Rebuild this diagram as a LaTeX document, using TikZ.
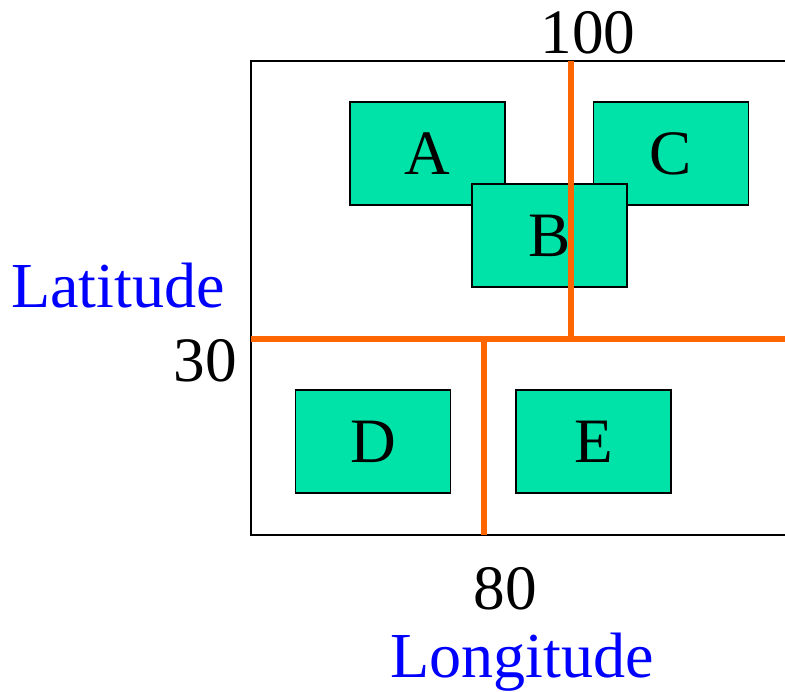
\documentclass[tikz,border=0pt]{standalone}
\usepackage{fontspec}
\setmainfont{Liberation Serif}
\usepackage{tikz}
\usetikzlibrary{positioning}
\definecolor{rectfill}{RGB}{0,227,168}
\definecolor{splitorange}{RGB}{255,102,0}
\tikzset{
  rect/.style={rectangle, draw=black, line width=0.9pt, fill=rectfill,
               minimum width=3.1cm, minimum height=2.06cm, inner sep=0pt,
               font=\fontsize{36}{42}\selectfont},
  split/.style={draw=splitorange, line width=3.4pt},
  frame/.style={draw=black, line width=1.1pt},
  axislabel/.style={text=blue, font=\fontsize{36.5}{42}\selectfont,
                    anchor=base, inner sep=0pt},
  cut/.style={font=\fontsize{36}{42}\selectfont, anchor=base, inner sep=0pt},
}

\begin{document}
\begin{tikzpicture}[x=0.02cm, y=-0.02cm]

\useasboundingbox (0,0) rectangle (785,691);

% ── Space frame (right side runs off) ─────────────────────────────────────────
\draw[frame] (785,61) -- (251,61) -- (251,535) -- (785,535);

% ── Rectangles ────────────────────────────────────────────────────────────────
\node[rect] (A) at (427.5,153.5) {A};
\node[rect] (C) at (671,153.5) {C};
\node[rect] (B) at (549.5,235.5) {B};
\node[rect] (D) at (373,441.5) {D};
\node[rect] (E) at (593.5,441.5) {E};

% ── Split lines ───────────────────────────────────────────────────────────────
\coordinate (lat) at (251,339);
\coordinate (latend) at (785,339);
\draw[split] (lat) -- (latend);
\draw[split] (571,61) -- (571,339);
\draw[split] (484,339) -- (484,535);

% ── Split values ──────────────────────────────────────────────────────────────
\node[cut] (v100) at (588,53) {100};
\node[cut, anchor=base east] (v30) at (237,381) {30};
\node[cut] (v80) at (505,609) {80};

% ── Axis names ────────────────────────────────────────────────────────────────
\node[axislabel] (latitude) at (118,307) {Latitude};
\node[axislabel] (longitude) at (522,677) {Longitude};

\end{tikzpicture}
\end{document}
